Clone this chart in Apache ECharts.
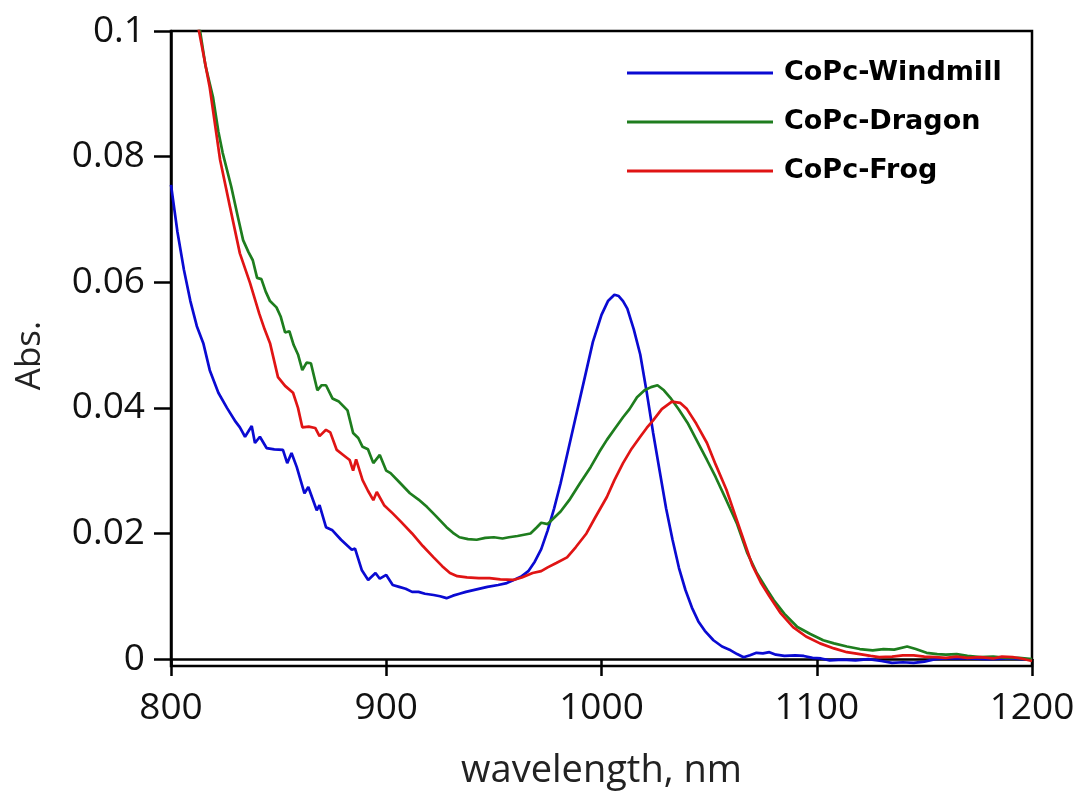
<!DOCTYPE html>
<html>
<head>
<meta charset="utf-8">
<script src="https://cdn.jsdelivr.net/npm/echarts@6/dist/echarts.min.js"></script>
<style>html,body{margin:0;padding:0;background:#fff}#c{width:1078px;height:796px}</style>
</head>
<body>
<div id="c"></div>
<script>
const seriesNames = ['CoPc-Windmill', 'CoPc-Dragon', 'CoPc-Frog'];
const yTickValues = [0, 0.02, 0.04, 0.06, 0.08, 0.1];

const windmillX = [800,803,806,809,812,815,818,822,826,830,832,834.4,837.5,839,841.3,844.4,848,852,854,856,858.4,862,863.8,867.7,869,872,875,879,884,885.5,888.6,891.6,895,897,900,903,906,909,912,915,918,922,925,928,931,934,937,942,947,952,956,960,963,966,969,972,975,978,981,984,988,992,996,1000,1003,1006,1008,1010,1012,1015,1018,1021,1024,1027,1030,1033,1036,1039,1042,1045,1048,1052,1056,1060,1063,1066,1069,1072,1075,1078,1081,1085,1090,1094,1098,1102,1106,1112,1118,1124,1130,1135,1140,1145,1150,1155,1160,1170,1180,1190,1200];
const windmillY = [0.0755,0.068,0.062,0.057,0.053,0.0503,0.046,0.0424,0.040,0.0378,0.0369,0.0354,0.0371,0.0344,0.0354,0.0336,0.0334,0.0333,0.0312,0.0328,0.0306,0.0264,0.0274,0.0237,0.0245,0.0210,0.0205,0.0190,0.0174,0.0176,0.0142,0.0126,0.0137,0.0128,0.0134,0.0118,0.0115,0.0112,0.0107,0.0107,0.0104,0.0102,0.0100,0.0097,0.0101,0.0104,0.0107,0.0111,0.0115,0.0118,0.0121,0.0127,0.0132,0.0140,0.0155,0.0175,0.0205,0.0240,0.0280,0.0325,0.0385,0.0445,0.0505,0.0548,0.0570,0.0580,0.0578,0.0570,0.0558,0.0525,0.0485,0.0425,0.0360,0.0300,0.0240,0.0190,0.0145,0.0110,0.0082,0.0060,0.0045,0.0030,0.0020,0.0014,0.0008,0.0003,0.0006,0.0010,0.0009,0.0011,0.0007,0.0005,0.0006,0.0005,0.0002,0.0001,-0.0002,-0.0001,-0.0002,0.0000,-0.0003,-0.0006,-0.0005,-0.0006,-0.0004,0.0000,0.0001,0.0001,0.0000,0.0001,-0.0001];

const dragonX = [808,813.5,816,819.5,822,824,828,831,833.5,836,838,840,842,844,846,849,851,853,855,857,859,861,863,865,868,870,872,875,878,882,884.6,887,889,891.5,894,897,900,902,906,911,915,919,923,928,931,934,938,942,946,950,954,957,961,964,967,970,972,975,978,981,985,990,995,999,1002.5,1006,1010,1013,1016.5,1020,1023,1026,1029,1032,1036,1040,1044,1049,1053,1058,1063,1067.6,1072,1077,1080,1085,1091,1097,1103,1108,1114,1120,1126,1131,1136,1142,1146,1151,1156,1160,1165,1170,1176,1182,1188,1194,1200];
const dragonY = [0.108,0.100,0.0945,0.0895,0.084,0.0806,0.0752,0.0705,0.0667,0.0648,0.0635,0.0607,0.0605,0.0585,0.0570,0.0560,0.0545,0.0520,0.0522,0.0500,0.0485,0.0460,0.0472,0.0471,0.0428,0.0436,0.0436,0.0415,0.0410,0.0396,0.0360,0.0352,0.0338,0.0334,0.0312,0.0325,0.0300,0.0296,0.0282,0.0264,0.0254,0.0242,0.0228,0.0210,0.0201,0.0194,0.0191,0.0190,0.0193,0.0194,0.0192,0.0194,0.0196,0.0198,0.0200,0.0210,0.0217,0.0215,0.0225,0.0235,0.0253,0.0280,0.0306,0.0330,0.0349,0.0366,0.0385,0.0398,0.0417,0.0428,0.0433,0.0436,0.0428,0.0416,0.0397,0.0376,0.0350,0.0317,0.0290,0.0253,0.0215,0.0170,0.0138,0.0110,0.0094,0.0072,0.0051,0.0040,0.0030,0.0025,0.0020,0.0016,0.0014,0.0016,0.0015,0.0020,0.0016,0.0010,0.0008,0.0007,0.0008,0.0005,0.0003,0.0004,0.0002,0.0002,0.0000];

const frogX = [808,813,818,822.8,827.4,832,836.7,841,843.5,846,849.7,853,856.7,859,861,864,867,869,872,874,877,880,883,884.6,886,889,891.5,894,895.6,899,903,907,912,917,922,926,929.6,933,937.5,943,948,953,959,963,968,972,975,979,984,988,993,997,1002.5,1006,1010,1014,1018,1021,1024,1028,1032.7,1036.5,1039.7,1044,1049,1053,1058,1062,1066,1070,1074,1078,1083,1089,1095,1101.5,1108,1114,1120,1125,1129,1135,1140,1145,1150,1155,1160,1165,1170,1176,1182,1186,1191,1195,1200];
const frogY = [0.110,0.100,0.091,0.0795,0.072,0.0646,0.0599,0.0550,0.0525,0.0503,0.0449,0.0435,0.0424,0.0400,0.0369,0.0370,0.0368,0.0355,0.0365,0.0361,0.0333,0.0325,0.0317,0.0300,0.0318,0.0285,0.0268,0.0253,0.0266,0.0245,0.0232,0.0218,0.0200,0.0180,0.0162,0.0148,0.0137,0.0132,0.0130,0.0129,0.0129,0.0127,0.0126,0.0130,0.0137,0.0140,0.0146,0.0153,0.0162,0.0178,0.0200,0.0225,0.0258,0.0285,0.0312,0.0335,0.0354,0.0368,0.0380,0.0398,0.0410,0.0408,0.0398,0.0375,0.0344,0.0310,0.0270,0.0230,0.0190,0.0150,0.0122,0.0100,0.0074,0.0051,0.0036,0.0025,0.0017,0.0011,0.0008,0.0005,0.0003,0.0004,0.0006,0.0006,0.0004,0.0003,0.0002,0.0004,0.0002,0.0003,0.0001,0.0004,0.0003,0.0001,-0.0003];

const colors = ['#0a0ad2', '#1e7d1e', '#e01414'];
const xs = [windmillX, dragonX, frogX];
const ys = [windmillY, dragonY, frogY];

const chart = echarts.init(document.getElementById('c'), null, {renderer: 'canvas'});
const axisFont = 'Open Sans';
chart.setOption({
  animation: false,
  backgroundColor: '#fff',
  grid: {left: 171, top: 31, right: 46, bottom: 130, outerBoundsMode: 'none', containLabel: false,
    show: true, borderColor: '#000', borderWidth: 2.5, backgroundColor: 'transparent'},
  legend: {
    orient: 'vertical', left: 622, top: 53, itemGap: 19,
    icon: 'rect', itemWidth: 146, itemHeight: 3,
    data: seriesNames,
    textStyle: {fontFamily: 'DejaVu Sans', fontWeight: 'bold', fontSize: 27, lineHeight: 30, color: '#000', padding: [0, 0, 0, 6]}
  },
  xAxis: {
    type: 'value', min: 800, max: 1200, interval: 100,
    name: 'wavelength, nm', nameLocation: 'middle', nameGap: 86,
    nameTextStyle: {fontFamily: axisFont, fontSize: 38, color: '#222'},
    axisLine: {lineStyle: {color: '#000', width: 2.5}},
    axisTick: {length: 17, lineStyle: {color: '#000', width: 2.5}},
    axisLabel: {margin: 24, fontFamily: axisFont, fontSize: 37, color: '#111', formatter: v => String(v)},
    splitLine: {show: false}
  },
  yAxis: {
    type: 'value', min: -0.0011, max: 0.1,
    name: 'Abs.', nameLocation: 'middle', nameGap: 123,
    nameTextStyle: {fontFamily: axisFont, fontSize: 35, color: '#222', padding: [0, 14, 0, 0]},
    axisLine: {lineStyle: {color: '#000', width: 2.5}},
    axisTick: {length: 17, customValues: yTickValues, lineStyle: {color: '#000', width: 2.5}},
    axisLabel: {margin: 26, customValues: yTickValues, fontFamily: axisFont, fontSize: 37, color: '#111',
      formatter: v => (Math.abs(v) < 1e-9 ? '0' : String(+v.toFixed(2)))},
    splitLine: {show: false}
  },
  series: seriesNames.map((n, i) => ({
    name: n, type: 'line', showSymbol: false, symbol: 'none', clip: true,
    color: colors[i],
    lineStyle: {color: colors[i], width: 2.7},
    data: xs[i].map((x, k) => [x, ys[i][k]])
  }))
});
</script>
</body>
</html>
